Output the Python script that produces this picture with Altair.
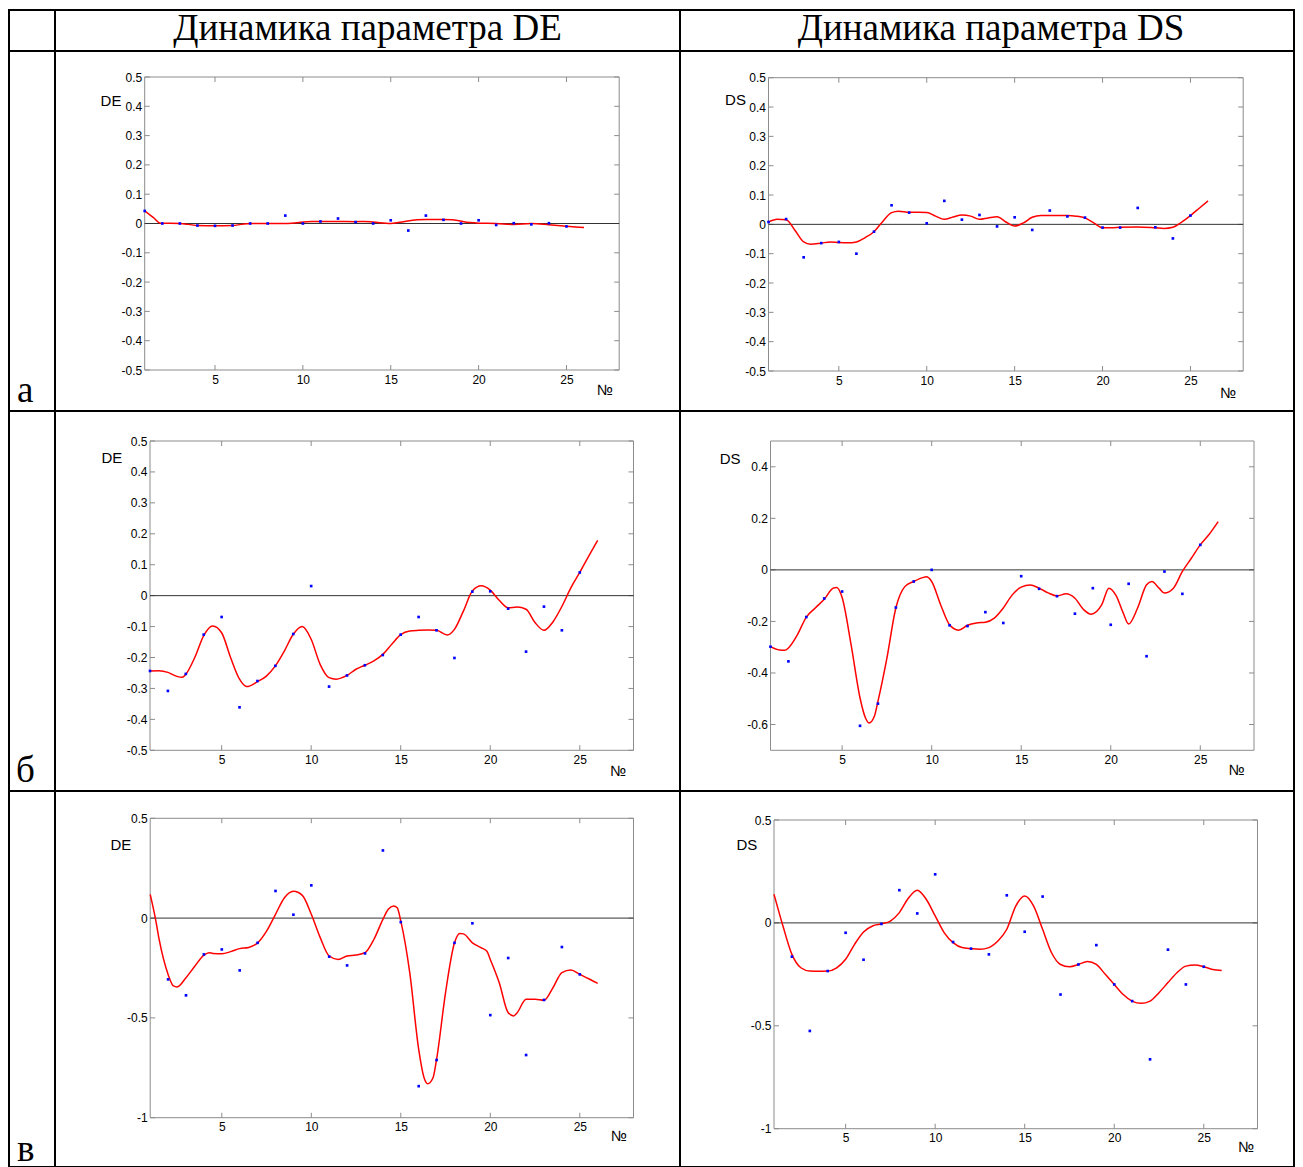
import altair as alt
import pandas as pd

N = list(range(1, 26))
X_TICKS = [5, 10, 15, 20, 25]

# ---- panel а / DE ----
a_de_pts = [0.043, 0, 0, -0.007, -0.008, -0.007, 0, 0, 0.027, 0, 0.007, 0.017, 0.005, 0,
            0.011, -0.024, 0.027, 0.0125, 0, 0.011, -0.005, 0.001, -0.003, 0.001, -0.01]
a_de_cx = [1, 1.5, 1.9, 3, 3.5, 4, 5, 6, 6.5, 7, 8, 9, 9.5, 10.5, 11, 12, 13, 13.5, 14, 15,
           15.5, 16.5, 17, 18, 18.5, 19.5, 20, 21, 22, 23, 24, 25, 26]
a_de_cy = [0.043, 0.02, 0.001, 0.0, -0.003, -0.007, -0.008, -0.007, -0.003, 0.0, 0.0, 0.0,
           0.002, 0.007, 0.007, 0.007, 0.006, 0.007, 0.005, 0.0, 0.004, 0.013, 0.014, 0.014,
           0.013, 0.003, 0.001, 0.0, -0.003, 0.0, -0.004, -0.009, -0.014]

# ---- panel а / DS ----
a_ds_pts = [0.008, 0.018, -0.1125, -0.064, -0.060, -0.100, -0.025, 0.065, 0.040, 0.0035,
            0.080, 0.016, 0.032, -0.007, 0.024, -0.019, 0.047, 0.027, 0.023, -0.011, -0.011,
            0.056, -0.010, -0.048, 0.030]
a_ds_cx = [1, 1.5, 2, 2.5, 3, 3.4, 4, 4.5, 5, 5.5, 6, 6.5, 7, 7.5, 8, 8.4, 9, 9.5, 10, 10.5,
           11, 11.5, 12, 12.5, 13, 13.5, 14, 14.5, 15, 15.5, 16, 16.5, 17, 18, 18.5, 19, 19.5,
           20, 20.5, 21, 22, 23, 23.5, 24, 24.5, 25, 25.5, 26]
a_ds_cy = [0.008, 0.017, 0.016, -0.02, -0.06, -0.068, -0.064, -0.060, -0.062, -0.063, -0.060,
           -0.045, -0.025, 0.01, 0.04, 0.045, 0.041, 0.041, 0.04, 0.028, 0.017, 0.025, 0.032,
           0.028, 0.017, 0.022, 0.026, 0.008, -0.006, 0.005, 0.024, 0.03, 0.03, 0.03, 0.028,
           0.022, 0.005, -0.012, -0.012, -0.01, -0.009, -0.012, -0.014, -0.01, 0.008, 0.03,
           0.055, 0.08]

# ---- panel б / DE ----
b_de_pts = [-0.2435, -0.308, -0.253, -0.126, -0.069, -0.361, -0.276, -0.227, -0.124, 0.031,
            -0.294, -0.258, -0.225, -0.192, -0.126, -0.069, -0.112, -0.2015, 0.013, 0.014,
            -0.042, -0.181, -0.0355, -0.112, 0.075]
b_de_cx = [1, 1.5, 2, 2.5, 2.8, 3, 3.5, 4, 4.5, 5, 5.5, 6, 6.4, 7, 7.5, 8, 8.5, 9, 9.5, 10,
           10.5, 11, 11.4, 12, 12.5, 13, 13.5, 14, 14.5, 15, 15.5, 16, 16.5, 17, 17.6, 18,
           18.5, 19, 19.5, 20, 20.5, 21, 21.5, 22, 22.5, 23, 23.5, 24, 24.5, 25, 25.5, 26]
b_de_cy = [-0.244, -0.243, -0.248, -0.261, -0.264, -0.254, -0.2, -0.129, -0.098, -0.12, -0.2,
           -0.27, -0.294, -0.278, -0.26, -0.227, -0.179, -0.125, -0.1, -0.141, -0.222, -0.265,
           -0.27, -0.258, -0.238, -0.225, -0.211, -0.19, -0.157, -0.126, -0.114, -0.112,
           -0.111, -0.112, -0.127, -0.109, -0.05, 0.015, 0.032, 0.018, -0.015, -0.039, -0.037,
           -0.044, -0.087, -0.112, -0.085, -0.035, 0.025, 0.075, 0.128, 0.179]

# ---- panel б / DS ----
b_ds_pts = [-0.298, -0.355, -0.183, -0.111, -0.084, -0.605, -0.519, -0.146, -0.045, 0.0,
            -0.215, -0.218, -0.164, -0.206, -0.0245, -0.0735, -0.102, -0.170, -0.071, -0.213,
            -0.054, -0.335, -0.0065, -0.093, 0.097]
b_ds_cx = [1, 1.5, 1.8, 2, 2.5, 3, 3.5, 4, 4.5, 4.7, 5, 5.5, 6, 6.3, 6.5, 6.8, 7, 7.5, 8, 8.5,
           9, 9.5, 9.7, 10, 10.5, 11, 11.5, 12, 12.5, 13, 13.5, 14, 14.5, 15, 15.5, 16, 16.5,
           17, 17.5, 18, 18.5, 18.9, 19.5, 19.9, 20.3, 20.7, 21, 21.5, 22, 22.3, 22.7, 23,
           23.5, 24, 24.5, 25, 25.5, 26]
b_ds_cy = [-0.298, -0.311, -0.312, -0.303, -0.252, -0.183, -0.148, -0.114, -0.071, -0.068,
           -0.107, -0.29, -0.497, -0.574, -0.594, -0.568, -0.51, -0.342, -0.148, -0.065,
           -0.045, -0.03, -0.027, -0.045, -0.135, -0.213, -0.234, -0.215, -0.206, -0.203,
           -0.187, -0.148, -0.097, -0.067, -0.059, -0.071, -0.089, -0.101, -0.093, -0.11,
           -0.155, -0.172, -0.135, -0.071, -0.1, -0.168, -0.21, -0.148, -0.058, -0.045,
           -0.071, -0.09, -0.071, -0.006, 0.045, 0.097, 0.138, 0.187]

# ---- panel в / DE ----  (no visible point at № 1)
c_de_pts = [None, -0.307, -0.387, -0.182, -0.157, -0.262, -0.124, 0.136, 0.017, 0.164,
            -0.193, -0.237, -0.177, 0.339, -0.02, -0.842, -0.711, -0.124, -0.026, -0.486,
            -0.2, -0.686, -0.41, -0.145, -0.282]
c_de_cx = [1, 1.3, 1.5, 2, 2.3, 2.5, 3, 3.5, 4, 4.3, 4.5, 5, 5.5, 6, 6.5, 7, 7.5, 8, 8.5, 9,
           9.5, 10, 10.5, 11, 11.5, 12, 12.5, 13, 13.5, 14, 14.3, 14.6, 14.8, 15, 15.5, 16,
           16.3, 16.5, 16.8, 17, 17.5, 18, 18.3, 18.5, 19, 19.5, 19.8, 20, 20.5, 21, 21.3,
           21.5, 22, 22.5, 23, 23.5, 24, 24.5, 25, 25.5, 26]
c_de_cy = [0.119, -0.006, -0.107, -0.282, -0.34, -0.345, -0.299, -0.24, -0.185, -0.173,
           -0.177, -0.179, -0.168, -0.153, -0.147, -0.124, -0.065, 0.019, 0.102, 0.134, 0.114,
           0.019, -0.098, -0.19, -0.207, -0.19, -0.185, -0.173, -0.106, -0.006, 0.044, 0.061,
           0.052, -0.015, -0.273, -0.658, -0.8, -0.83, -0.8, -0.707, -0.373, -0.124, -0.077,
           -0.079, -0.124, -0.149, -0.165, -0.207, -0.324, -0.474, -0.49, -0.474, -0.407,
           -0.407, -0.412, -0.349, -0.273, -0.26, -0.282, -0.304, -0.327]

# ---- panel в / DS ----  (no visible point at № 1)
c_ds_pts = [None, -0.164, -0.525, -0.234, -0.048, -0.179, -0.005, 0.159, 0.046, 0.236,
            -0.093, -0.125, -0.153, 0.134, -0.043, 0.128, -0.348, -0.202, -0.108, -0.299,
            -0.380, -0.663, -0.130, -0.299, -0.213]
c_ds_cx = [1, 1.5, 2, 2.5, 3, 3.5, 4, 4.5, 5, 5.5, 6, 6.5, 7, 7.5, 8, 8.5, 9, 9.5, 10, 10.5,
           11, 11.5, 12, 12.5, 13, 13.5, 14, 14.5, 15, 15.5, 16, 16.5, 17, 17.5, 18, 18.5, 19,
           19.5, 20, 20.5, 21, 21.5, 22, 22.5, 23, 23.5, 24, 24.5, 25, 25.5, 26]
c_ds_cy = [0.139, -0.015, -0.153, -0.218, -0.234, -0.235, -0.234, -0.218, -0.177, -0.104,
           -0.044, -0.015, -0.005, 0.009, 0.05, 0.12, 0.159, 0.115, 0.034, -0.047, -0.096,
           -0.12, -0.125, -0.128, -0.12, -0.088, -0.031, 0.082, 0.131, 0.082, -0.031, -0.145,
           -0.202, -0.213, -0.202, -0.187, -0.202, -0.25, -0.299, -0.348, -0.380, -0.391,
           -0.380, -0.339, -0.29, -0.242, -0.21, -0.205, -0.213, -0.226, -0.231]

Y_TICKS_A = [-0.5, -0.4, -0.3, -0.2, -0.1, 0, 0.1, 0.2, 0.3, 0.4, 0.5]
Y_TICKS_B_DS = [-0.6, -0.4, -0.2, 0, 0.2, 0.4]
Y_TICKS_C = [-1, -0.5, 0, 0.5]

HEADERS = ["Динамика параметра DE", "Динамика параметра DS"]
ROW_LABELS = ["а", "б", "в"]

COL_W = [46, 625, 614]
ROW_H = [41, 360, 380, 376]

SANS = "Liberation Sans"
SERIF = "Liberation Serif"
FRAME = "#8c8c8c"


def panel(pts, cx, cy, ydom, yticks, frame, ytitle, ytpos, xtpos, cw, ch):
    x0, x1, y0, y1 = frame
    xs = alt.Scale(domain=[1, 28], range=[x0, x1], nice=False, zero=False)
    ys = alt.Scale(domain=ydom, range=[y1, y0], nice=False, zero=False)
    xax = alt.Axis(values=X_TICKS, offset=-(ch - y1), ticks=False, tickSize=0, domain=False,
                   grid=False, labelPadding=4, labelFont=SANS, labelFontSize=12,
                   labelColor="black", labelFlush=False, labelExpr="'' + datum.value",
                   title="№", titleX=xtpos[0], titleY=xtpos[1], titleAlign="center",
                   titleBaseline="middle", titleFont=SANS, titleFontSize=15,
                   titleFontWeight="normal", titleColor="black", titleAngle=0)
    yax = alt.Axis(values=yticks, offset=-x0, ticks=False, tickSize=0, domain=False,
                   grid=False, labelPadding=3, labelFont=SANS, labelFontSize=12,
                   labelColor="black", labelFlush=False, labelExpr="'' + datum.value",
                   title=ytitle, titleX=ytpos[0], titleY=ytpos[1], titleAlign="center",
                   titleBaseline="middle", titleFont=SANS, titleFontSize=15,
                   titleFontWeight="normal", titleColor="black", titleAngle=0)
    X = alt.X("n:Q", scale=xs, axis=xax)
    Y = alt.Y("v:Q", scale=ys, axis=yax)

    frame_df = pd.DataFrame({"n": [1], "n2": [28], "v": [ydom[0]], "v2": [ydom[1]]})
    zero_df = pd.DataFrame({"n": [1], "n2": [28], "v": [0]})
    pts_df = pd.DataFrame({"n": N, "v": pts}).dropna()
    cur_df = pd.DataFrame({"n": cx, "v": cy})
    bt_df = pd.DataFrame({"n": X_TICKS, "v": [ydom[0]] * len(X_TICKS)})
    tt_df = pd.DataFrame({"n": X_TICKS, "v": [ydom[1]] * len(X_TICKS)})
    lt_df = pd.DataFrame({"n": [1] * len(yticks), "v": yticks})
    rt_df = pd.DataFrame({"n": [28] * len(yticks), "v": yticks})

    frame_l = alt.Chart(frame_df).mark_rect(filled=False, stroke=FRAME, strokeWidth=1).encode(
        x=X, x2="n2:Q", y=Y, y2="v2:Q")
    zero_l = alt.Chart(zero_df).mark_rule(color="#333333", strokeWidth=1).encode(
        x=X, x2="n2:Q", y=Y)
    tick_kw = dict(color=FRAME, thickness=1, size=5, opacity=1)
    bt = alt.Chart(bt_df).mark_tick(orient="vertical", yOffset=-2.5, **tick_kw).encode(x=X, y=Y)
    tt = alt.Chart(tt_df).mark_tick(orient="vertical", yOffset=2.5, **tick_kw).encode(x=X, y=Y)
    lt = alt.Chart(lt_df).mark_tick(orient="horizontal", xOffset=2.5, **tick_kw).encode(x=X, y=Y)
    rt = alt.Chart(rt_df).mark_tick(orient="horizontal", xOffset=-2.5, **tick_kw).encode(x=X, y=Y)
    line_l = alt.Chart(cur_df).mark_line(color="#ff0000", strokeWidth=1.5,
                                         interpolate="monotone").encode(x=X, y=Y, order="n:Q")
    pts_l = alt.Chart(pts_df).mark_square(color="#0000ff", size=7, opacity=1).encode(x=X, y=Y)
    return alt.layer(frame_l, bt, tt, lt, rt, zero_l, line_l, pts_l).properties(
        width=cw, height=ch)


def text_cell(txt, x, y, w, h, size, align):
    return alt.Chart(pd.DataFrame({"t": [txt]})).mark_text(
        font=SERIF, fontSize=size, align=align, baseline="alphabetic", color="black"
    ).encode(text="t:N", x=alt.value(x), y=alt.value(y)).properties(width=w, height=h)


corner = text_cell(" ", 5, 20, COL_W[0], ROW_H[0], 10, "left")
hdr_de = text_cell(HEADERS[0], 312.5, 29.5, COL_W[1], ROW_H[0], 37, "center")
hdr_ds = text_cell(HEADERS[1], 311, 29.5, COL_W[2], ROW_H[0], 37, "center")

lab_a = text_cell(ROW_LABELS[0], 8, 351, COL_W[0], ROW_H[1], 37, "left")
lab_b = text_cell(ROW_LABELS[1], 7, 371, COL_W[0], ROW_H[2], 37, "left")
lab_c = text_cell(ROW_LABELS[2], 8, 370, COL_W[0], ROW_H[3], 37, "left")

a_de = panel(a_de_pts, a_de_cx, a_de_cy, [-0.5, 0.5], Y_TICKS_A, (89.7, 564.2, 26, 319),
             "DE", (-34.2, 49), (549.5, 19), COL_W[1], ROW_H[1])
a_ds = panel(a_ds_pts, a_ds_cx, a_ds_cy, [-0.5, 0.5], Y_TICKS_A, (88.5, 563.2, 26.7, 320),
             "DS", (-33.5, 48.5), (547.9, 21), COL_W[2], ROW_H[1])
b_de = panel(b_de_pts, b_de_cx, b_de_cy, [-0.5, 0.5], Y_TICKS_A, (95, 578.5, 30, 339.3),
             "DE", (-38.6, 46), (562.7, 20), COL_W[1], ROW_H[2])
b_ds = panel(b_ds_pts, b_ds_cx, b_ds_cy, [-0.7, 0.5], Y_TICKS_B_DS, (90.5, 574, 30, 339.3),
             "DS", (-40.9, 47.5), (556.3, 19.5), COL_W[2], ROW_H[2])
c_de = panel(c_de_pts, c_de_cx, c_de_cy, [-1, 0.5], Y_TICKS_C, (95.2, 578.5, 27.3, 326.7),
             "DE", (-29.8, 53.5), (563.6, 17.5), COL_W[1], ROW_H[3])
c_ds = panel(c_ds_pts, c_ds_cx, c_ds_cy, [-1, 0.5], Y_TICKS_C, (94, 577.5, 29, 337.7),
             "DS", (-27.6, 53.5), (565.8, 18), COL_W[2], ROW_H[3])

chart = alt.concat(
    corner, hdr_de, hdr_ds,
    lab_a, a_de, a_ds,
    lab_b, b_de, b_ds,
    lab_c, c_de, c_ds,
    columns=3, spacing=0, bounds="flush",
).properties(padding=0).configure_view(stroke="black", strokeWidth=2)

chart.save("out.html", embed_options={"renderer": "svg", "actions": False})
